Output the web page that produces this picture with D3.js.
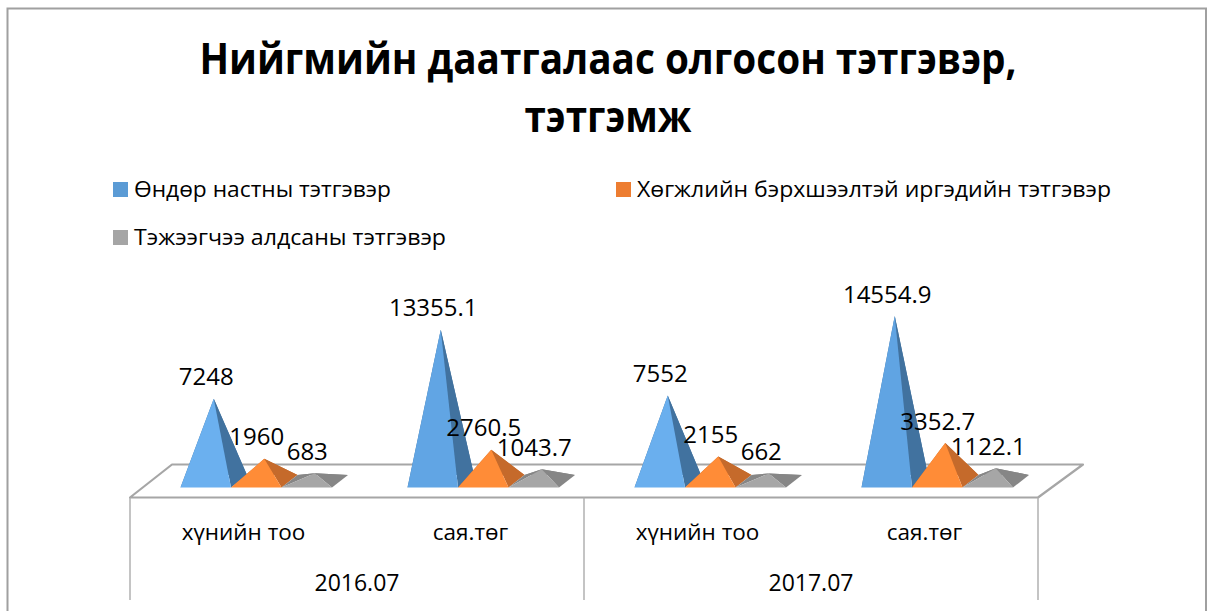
<!DOCTYPE html>
<html><head><meta charset="utf-8">
<script src="https://cdn.jsdelivr.net/npm/d3@7/dist/d3.min.js"></script>
<style>
html,body{margin:0;padding:0;background:#fff}
svg{display:block}
text{font-family:"Open Sans",sans-serif;fill:#000}
</style></head><body>
<svg id="c" width="1208" height="611"></svg>
<script>
const titleLines = ["Нийгмийн даатгалаас олгосон тэтгэвэр,", "тэтгэмж"];
const seriesNames = ["Өндөр настны тэтгэвэр", "Хөгжлийн бэрхшээлтэй иргэдийн тэтгэвэр", "Тэжээгчээ алдсаны тэтгэвэр"];
const categories = ["хүнийн тоо", "сая.төг", "хүнийн тоо", "сая.төг"];
const groups = ["2016.07", "2017.07"];
const pensionSeniors = [7248, 13355.1, 7552, 14554.9];
const pensionDisabled = [1960, 2760.5, 2155, 3352.7];
const pensionSurvivors = [683, 1043.7, 662, 1122.1];
const seriesValues = [pensionSeniors, pensionDisabled, pensionSurvivors];

const frontColors = ["#62a6e5", "#ff8c37", "#a6a6a6"];
const sideColors = ["#41729f", "#c56a2b", "#868686"];
const legendColors = ["#5b9bd5", "#ed7d31", "#a5a5a5"];

const svg = d3.select("#c");
const line = "#a6a6a6";

// Outer chart frame
svg.append("path").attr("d", "M7.5,611V8.5H1206V611").attr("fill", "none").attr("stroke", "#a0a0a0").attr("stroke-width", 2);

// Title
svg.selectAll("text.title").data(titleLines).join("text").attr("class", "title")
  .attr("x", 608).attr("y", (d, i) => i === 0 ? 74 : 132)
  .attr("text-anchor", "middle").attr("font-size", 43).attr("font-weight", 700)
  .attr("textLength", (d, i) => i === 0 ? 817 : 167).attr("lengthAdjust", "spacingAndGlyphs")
  .text(d => d);

// Legend
const legendPos = [[113, 182], [616, 182], [113, 230]];
const legendW = [257, 474, 312];
seriesNames.forEach((n, i) => {
  const [x, y] = legendPos[i];
  svg.append("rect").attr("x", x).attr("y", y).attr("width", 15).attr("height", 15).attr("fill", legendColors[i]);
  svg.append("text").attr("x", x + 21).attr("y", y + 15).attr("font-size", 22)
    .attr("textLength", legendW[i]).attr("lengthAdjust", "spacingAndGlyphs").text(n);
});

// Scales
const xCat = d3.scaleBand().domain(d3.range(categories.length)).range([130, 1038]);
const xGroup = d3.scaleBand().domain(groups).range([130, 1038]);
const xSeries = d3.scaleBand().domain(d3.range(seriesNames.length)).range([-63, 88.5]);
const y = d3.scaleLinear().domain([0, 16000]).range([481, 299.7]);
const baseFront = 487.5, depthX = 16, depthY = 12.5;

// Floor
svg.append("polygon")
  .attr("points", [[130, 497.5], [172, 464.5], [1083, 464.5], [1038, 497.5]].join(" "))
  .attr("fill", "#fff").attr("stroke", line).attr("stroke-width", 2.2).attr("stroke-linejoin", "round");
[130, 584, 1038].forEach(x => {
  svg.append("line").attr("x1", x).attr("x2", x).attr("y1", 497.5).attr("y2", 600)
    .attr("stroke", "#b0b0b0").attr("stroke-width", 1.5);
});

// Pyramids
const shade = d3.scaleLinear().domain([7000, 14000]).range(["#6bb0ef", "#60a4e3"]).clamp(true);
const labels = [];
seriesValues.forEach((vals, s) => {
  const g = svg.append("g");
  vals.forEach((v, c) => {
    const x0 = xCat(c) + xSeries(s) + xCat.bandwidth() / 2;
    const w = xSeries.bandwidth();
    const FL = [x0, baseFront], FR = [x0 + w, baseFront];
    const BR = [x0 + w + depthX, baseFront - depthY], BL = [x0 + depthX, baseFront - depthY];
    const apex = [x0 + w / 2 + depthX / 2, y(v)];
    const front = s === 0 ? shade(v) : frontColors[s];
    g.append("polygon").attr("points", [FL, BL, apex].join(" ")).attr("fill", sideColors[s]);
    g.append("polygon").attr("points", [BL, BR, apex].join(" ")).attr("fill", sideColors[s]);
    g.append("polygon").attr("points", [FR, BR, apex].join(" ")).attr("fill", sideColors[s]);
    g.append("polygon").attr("points", [FL, FR, apex].join(" ")).attr("fill", front);
    labels.push({ v, x: apex[0] - 7.5, y: apex[1] - 13.5 });
  });
});

// Data labels
svg.selectAll("text.lab").data(labels).join("text").attr("class", "lab")
  .attr("x", d => d.x).attr("y", d => d.y).attr("text-anchor", "middle")
  .attr("font-size", 24).text(d => d.v);

// Category and group axis labels
svg.selectAll("text.cat").data(categories).join("text").attr("class", "cat")
  .attr("x", (d, i) => xCat(i) + xCat.bandwidth() / 2).attr("y", 540)
  .attr("text-anchor", "middle").attr("font-size", 22.5).text(d => d);
svg.selectAll("text.grp").data(groups).join("text").attr("class", "grp")
  .attr("x", d => xGroup(d) + xGroup.bandwidth() / 2).attr("y", 591)
  .attr("text-anchor", "middle").attr("font-size", 23).text(d => d);
</script>
</body></html>
